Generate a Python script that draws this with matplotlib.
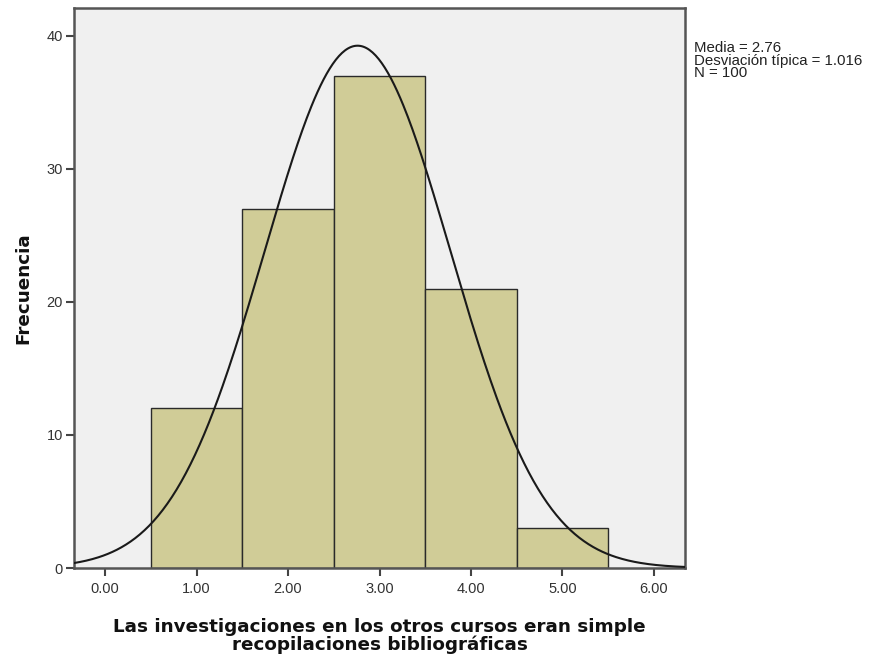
import numpy as np
import matplotlib
matplotlib.use("Agg")
import matplotlib.pyplot as plt

categories = [1, 2, 3, 4, 5]
counts = [12, 27, 37, 21, 3]
mean = 2.76
sd = 1.016
n = 100
xticks = [0, 1, 2, 3, 4, 5, 6]
yticks = [0, 10, 20, 30, 40]
stats_lines = [f"Media = {mean}", f"Desviación típica = {sd}", f"N = {n}"]

fig = plt.figure(figsize=(8.76, 6.57), dpi=100)
ax = fig.add_axes([74/876, 89/657, (685-74)/876, (568-8)/657])
ax.set_facecolor("#f0f0f0")
ax.bar(categories, counts, width=1.0, color="#d0cc97", edgecolor="#2a2a2a", linewidth=1.0, zorder=2)

xs = np.linspace(-0.34, 6.34, 400)
ys = n * 1.0 * np.exp(-0.5 * ((xs - mean) / sd) ** 2) / (sd * np.sqrt(2 * np.pi))
ax.plot(xs, ys, color="#1a1a1a", linewidth=1.5, zorder=3)

ax.set_xlim(-0.34, 6.34)
ax.set_ylim(0, 42.1)
ax.set_xticks(xticks)
ax.set_xticklabels([f"{v:.2f}" for v in xticks], fontfamily="Liberation Sans", fontsize=10.5, color="#333333")
ax.set_yticks(yticks)
ax.set_yticklabels([str(v) for v in yticks], fontfamily="Liberation Sans", fontsize=10.5, color="#333333")
ax.tick_params(axis="x", length=6, width=1.5, color="#444444", pad=4)
ax.tick_params(axis="y", length=6, width=1.5, color="#444444", pad=2)
for s in ax.spines.values():
    s.set_color("#555555")
    s.set_linewidth(1.8)

ax.set_xlabel("Las investigaciones en los otros cursos eran simple\nrecopilaciones bibliográficas",
              fontfamily="DejaVu Sans", fontweight="bold", fontsize=13.2, linespacing=0.95, labelpad=16,
              color="#111111")
ax.set_ylabel("Frecuencia", fontfamily="DejaVu Sans", fontweight="bold", fontsize=13.2, labelpad=10,
              color="#111111")

for i, line in enumerate(stats_lines):
    fig.text(694/876, 1 - (48 + 12.5 * i)/657, line,
             fontfamily="Liberation Sans", fontsize=10.8, va="center", ha="left", color="#222222")

fig.savefig("out.png", dpi=100, facecolor="white")
